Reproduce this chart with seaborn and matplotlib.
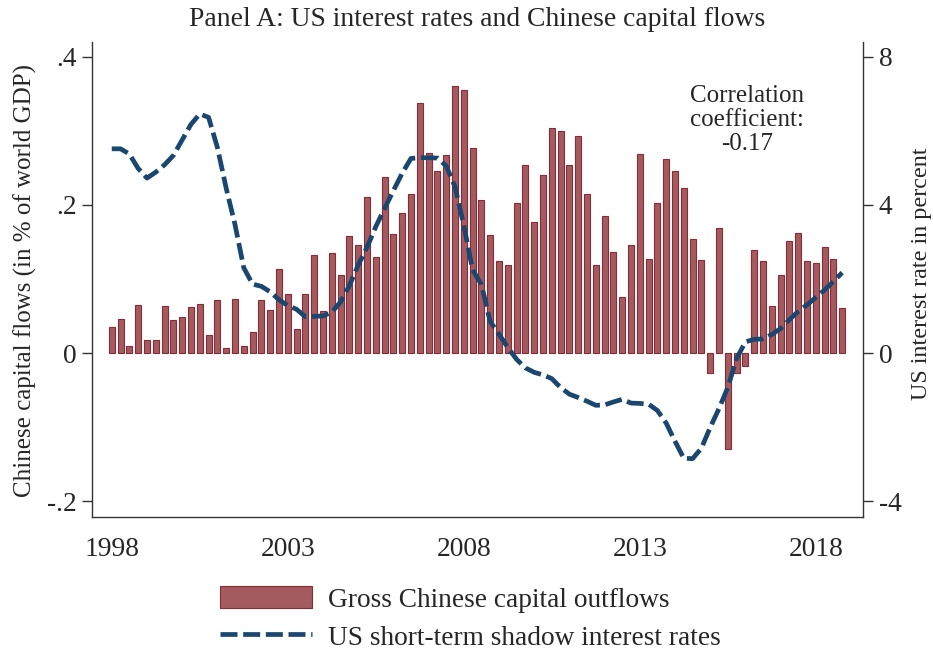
import numpy as np
import pandas as pd
import matplotlib
matplotlib.use("Agg")
import matplotlib.pyplot as plt
from matplotlib.patches import Patch
from matplotlib.lines import Line2D
import seaborn as sns

# ---------------- data ----------------
years = list(range(1998, 2019))
quarters = [1, 2, 3, 4]

# Gross Chinese capital outflows (% of world GDP), 1998Q1-2018Q4
flows = [
    0.035, 0.046, 0.009, 0.065,   # 1998
    0.017, 0.017, 0.064, 0.044,   # 1999
    0.048, 0.062, 0.066, 0.025,   # 2000
    0.072, 0.007, 0.073, 0.010,   # 2001
    0.029, 0.072, 0.058, 0.114,   # 2002
    0.080, 0.032, 0.080, 0.132,   # 2003
    0.057, 0.135, 0.105, 0.158,   # 2004
    0.146, 0.211, 0.130, 0.237,   # 2005
    0.160, 0.189, 0.215, 0.337,   # 2006
    0.270, 0.246, 0.267, 0.360,   # 2007
    0.355, 0.276, 0.207, 0.159,   # 2008
    0.124, 0.119, 0.203, 0.254,   # 2009
    0.177, 0.240, 0.304, 0.299,   # 2010
    0.254, 0.293, 0.214, 0.119,   # 2011
    0.185, 0.136, 0.076, 0.146,   # 2012
    0.269, 0.127, 0.203, 0.262,   # 2013
    0.246, 0.222, 0.154, 0.125,   # 2014
    -0.027, 0.169, -0.129, -0.027,  # 2015
    -0.017, 0.139, 0.124, 0.064,  # 2016
    0.105, 0.151, 0.162, 0.124,   # 2017
    0.121, 0.143, 0.127, 0.061,   # 2018
]

# US short-term shadow interest rate (percent), 1998Q1-2018Q4
shadow = [
    5.51, 5.51, 5.37, 4.98,
    4.72, 4.88, 5.08, 5.33,
    5.75, 6.17, 6.45, 6.36,
    5.55, 4.45, 3.47, 2.30,
    1.86, 1.80, 1.65, 1.44,
    1.28, 1.18, 0.98, 0.99,
    1.00, 1.10, 1.38, 1.82,
    2.37, 2.85, 3.41, 3.90,
    4.38, 4.85, 5.25, 5.27,
    5.27, 5.26, 5.05, 4.49,
    3.45, 2.25, 1.85, 0.85,
    0.51, 0.15, -0.17, -0.40,
    -0.52, -0.59, -0.69, -0.93,
    -1.11, -1.20, -1.30, -1.41,
    -1.40, -1.32, -1.25, -1.35,
    -1.36, -1.38, -1.55, -1.89,
    -2.38, -2.84, -2.85, -2.57,
    -2.01, -1.50, -0.93, -0.15,
    0.30, 0.37, 0.38, 0.50,
    0.66, 0.90, 1.12, 1.30,
    1.50, 1.70, 1.93, 2.17,
]

x_ticks = [1998, 2003, 2008, 2013, 2018]
left_ticks = [-0.2, 0.0, 0.2, 0.4]
left_ticklabels = ["-.2", "0", ".2", ".4"]
right_ticks = [-4, 0, 4, 8]
right_ticklabels = ["-4", "0", "4", "8"]

title = "Panel A: US interest rates and Chinese capital flows"
left_label = "Chinese capital flows (in % of world GDP)"
right_label = "US interest rate in percent"
corr_text = "Correlation\ncoefficient:\n-0.17"
bar_name = "Gross Chinese capital outflows"
line_name = "US short-term shadow interest rates"

dates = [y + (q - 1) / 4 for y in years for q in quarters]
df = pd.DataFrame({"date": dates, "flows": flows, "shadow": shadow})

# ---------------- style ----------------
sns.set_theme(style="white")
plt.rcParams["font.family"] = ["Liberation Serif", "DejaVu Serif"]

bar_fc = "#a45b60"
bar_ec = "#8a2a34"
line_c = "#1a476f"
dash = (0, (3.6, 1.2))
lw = 3.4
fs_tick = 19.8
fs_title = 19.9
fs_label = 18
fs_rlabel = 17.4
fs_corr = 18
fs_leg = 19.7

W, H = 933, 651
fig = plt.figure(figsize=(9.33, 6.51), dpi=100)
ax = fig.add_axes([91.7 / W, 1 - 517.3 / H, (863.3 - 91.7) / W, (517.3 - 41.7) / H])

sns.barplot(data=df, x="date", y="flows", native_scale=True, width=0.68,
            color=bar_fc, saturation=1, edgecolor=bar_ec, linewidth=0.8,
            errorbar=None, ax=ax)
ax.set_xlim(1997.43, 2019.35)
ax.set_ylim(-0.2216, 0.42)
ax.set_xticks(x_ticks)
ax.set_xticklabels([str(t) for t in x_ticks])
ax.set_yticks(left_ticks)
ax.set_yticklabels(left_ticklabels)
ax.set_xlabel("")
ax.set_ylabel("")

ax2 = ax.twinx()
sns.lineplot(data=df, x="date", y="shadow", ax=ax2, color=line_c,
             linewidth=lw, linestyle=dash)
for ln in ax2.get_lines():
    ln.set_linestyle(dash)
ax2.set_ylim(-4.432, 8.4)
ax2.set_yticks(right_ticks)
ax2.set_yticklabels(right_ticklabels)
ax2.set_xlim(1997.43, 2019.35)
ax2.set_ylabel("")

for a in (ax, ax2):
    a.spines["top"].set_visible(False)
    for s in ("left", "right", "bottom"):
        a.spines[s].set_color("#333333")
        a.spines[s].set_linewidth(1.0)
    a.tick_params(axis="both", which="major", labelsize=fs_tick, direction="out",
                  length=7, width=1.0, color="#333333", pad=4)
    a.grid(False)
ax.spines["right"].set_visible(False)
ax2.spines["left"].set_visible(False)
ax2.spines["bottom"].set_visible(False)
ax.tick_params(axis="x", length=9, pad=5)

fig.text(25 / W, 1 - 280 / H, left_label, rotation=90, ha="center", va="center",
         fontsize=fs_label)
fig.text(921 / W, 1 - 274 / H, right_label, rotation=90, ha="center", va="center",
         fontsize=fs_rlabel)

fig.text(477 / W, 1 - 19 / H, title, ha="center", va="center", fontsize=fs_title)
fig.text(746.7 / W, 1 - 120 / H, corr_text, ha="center", va="center",
         multialignment="center", fontsize=fs_corr, linespacing=1.1)

handles = [Patch(facecolor=bar_fc, edgecolor=bar_ec, linewidth=0.8),
           Line2D([0], [0], color=line_c, linewidth=lw, linestyle=dash)]
fig.legend(handles, [bar_name, line_name], loc="upper left",
           bbox_to_anchor=(220 / W, 1 - 586 / H), frameon=False,
           fontsize=fs_leg, handlelength=3.35, handleheight=0.88,
           handletextpad=0.6, labelspacing=0.42, borderpad=0, borderaxespad=0)

fig.savefig("out.png", dpi=100)
